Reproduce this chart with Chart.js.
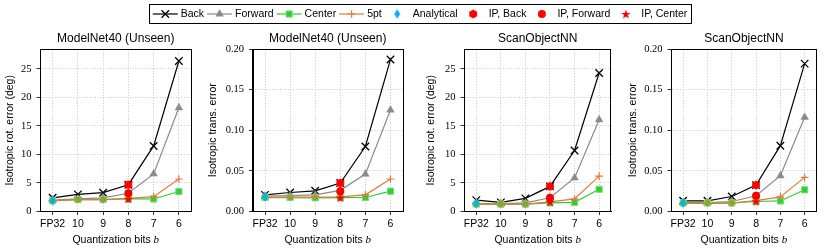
<!DOCTYPE html>
<html>
<head>
<meta charset="utf-8">
<script src="https://cdn.jsdelivr.net/npm/chart.js"></script>
<style>
  body { margin: 0; background: #fff; }
  #wrap { position: relative; width: 830px; height: 250px; }
  canvas { position: absolute; }
</style>
</head>
<body>
<div id="wrap">
  <canvas id="legend" style="left:0px;top:0px" width="830" height="30"></canvas>
  <canvas id="c1" style="left:0px;top:30px" width="200" height="220"></canvas>
  <canvas id="c2" style="left:200px;top:30px" width="210" height="220"></canvas>
  <canvas id="c3" style="left:418px;top:30px" width="200" height="220"></canvas>
  <canvas id="c4" style="left:620px;top:30px" width="210" height="220"></canvas>
</div>
<script>
// x categories
const bits = ['FP32', '10', '9', '8', '7', '6'];

// ModelNet40 (Unseen) - rotation error (deg)
const mnRotBack    = [2.4, 3.0, 3.3, 4.7, 11.5, 26.4];
const mnRotForward = [2.0, 2.2, 2.4, 3.2, 6.6, 18.2];
const mnRotCenter  = [1.9, 2.1, 2.1, 2.2, 2.2, 3.5];
const mnRot5pt     = [1.9, 2.1, 2.1, 2.3, 2.6, 5.7];
const mnRotAnalytical = [1.9];          // at FP32
const mnRotIP = [4.7, 3.2, 2.2];        // back, forward, center at 8 bits

// ModelNet40 (Unseen) - translation error
const mnTransBack    = [0.0205, 0.0234, 0.0255, 0.035, 0.080, 0.187];
const mnTransForward = [0.019, 0.0195, 0.0205, 0.026, 0.046, 0.125];
const mnTransCenter  = [0.0172, 0.0172, 0.0168, 0.017, 0.0172, 0.025];
const mnTrans5pt     = [0.0175, 0.0178, 0.0178, 0.018, 0.0205, 0.040];
const mnTransAnalytical = [0.018];
const mnTransIP = [0.035, 0.025, 0.017];

// ScanObjectNN - rotation error (deg)
const soRotBack    = [2.0, 1.6, 2.3, 4.4, 10.7, 24.3];
const soRotForward = [1.4, 1.4, 1.5, 2.4, 5.9, 16.1];
const soRotCenter  = [1.3, 1.3, 1.3, 1.5, 1.6, 3.9];
const soRot5pt     = [1.3, 1.3, 1.3, 1.7, 2.2, 6.2];
const soRotAnalytical = [1.4];
const soRotIP = [4.4, 2.4, 1.7];

// ScanObjectNN - translation error
const soTransBack    = [0.0132, 0.0132, 0.0185, 0.0325, 0.081, 0.182];
const soTransForward = [0.011, 0.011, 0.0123, 0.0193, 0.044, 0.116];
const soTransCenter  = [0.0105, 0.0105, 0.0105, 0.0123, 0.013, 0.0267];
const soTrans5pt     = [0.010, 0.010, 0.0102, 0.0135, 0.018, 0.042];
const soTransAnalytical = [0.0105];
const soTransIP = [0.0325, 0.0195, 0.0125];

// y ticks
const rotTicks = [0, 5, 10, 15, 20, 25];
const transTicks = [0, 0.05, 0.10, 0.15, 0.20];

const SANS = '"Liberation Sans", Arial, sans-serif';
const SERIF = '"Liberation Serif", "DejaVu Serif", serif';

// custom markers (matplotlib-like hexagon, star, thin diamond)
function makeMarker(w, h, draw) {
  const c = document.createElement('canvas');
  c.width = w; c.height = h;
  draw(c.getContext('2d'), w / 2, h / 2);
  return c;
}
const hexMarker = makeMarker(10, 10, (g, cx, cy) => {
  g.fillStyle = '#ff0000';
  g.beginPath();
  for (let k = 0; k < 6; k++) {
    const a = -Math.PI / 2 + k * Math.PI / 3;
    const px = cx + 4.5 * Math.cos(a), py = cy + 4.5 * Math.sin(a);
    if (k) g.lineTo(px, py); else g.moveTo(px, py);
  }
  g.closePath();
  g.fill();
});
const starMarker = makeMarker(12, 12, (g, cx, cy) => {
  g.fillStyle = '#ff0000';
  g.beginPath();
  for (let k = 0; k < 10; k++) {
    const r = k % 2 ? 2.0 : 5.0;
    const a = -Math.PI / 2 + k * Math.PI / 5;
    const px = cx + r * Math.cos(a), py = cy + 0.5 + r * Math.sin(a);
    if (k) g.lineTo(px, py); else g.moveTo(px, py);
  }
  g.closePath();
  g.fill();
});
const diamondMarker = makeMarker(8, 12, (g, cx, cy) => {
  g.fillStyle = '#00b4f0';
  g.beginPath();
  g.moveTo(cx, cy - 4.8);
  g.lineTo(cx + 3, cy);
  g.lineTo(cx, cy + 4.8);
  g.lineTo(cx - 3, cy);
  g.closePath();
  g.fill();
});

const seriesStyles = [
  {label: 'Back', borderColor: '#000000', pointBackgroundColor: '#000000', pointBorderColor: '#000000',
   pointStyle: 'crossRot', pointRadius: 5.3, pointBorderWidth: 1.3, showLine: true},
  {label: 'Forward', borderColor: '#8a8a8a', pointBackgroundColor: '#8a8a8a', pointBorderColor: '#8a8a8a',
   pointStyle: 'triangle', pointRadius: 4.4, pointBorderWidth: 0.5, showLine: true},
  {label: 'Center', borderColor: '#33cc33', pointBackgroundColor: '#33cc33', pointBorderColor: '#7fe07f',
   pointStyle: 'rect', pointRadius: 4.4, pointBorderWidth: 1, showLine: true},
  {label: '5pt', borderColor: '#e07b39', pointBackgroundColor: '#e07b39', pointBorderColor: '#e07b39',
   pointStyle: 'cross', pointRadius: 3.8, pointBorderWidth: 1.2, showLine: true},
  {label: 'Analytical', borderColor: '#00b4f0', pointBackgroundColor: '#00b4f0', pointBorderColor: '#00b4f0',
   pointStyle: diamondMarker, pointRadius: 4, pointBorderWidth: 0, showLine: false},
  {label: 'IP, Back', borderColor: '#ff0000', pointBackgroundColor: '#ff0000', pointBorderColor: '#ff0000',
   pointStyle: hexMarker, pointRadius: 4, pointBorderWidth: 0, showLine: false},
  {label: 'IP, Forward', borderColor: '#ff0000', pointBackgroundColor: '#ff0000', pointBorderColor: '#ff0000',
   pointStyle: 'circle', pointRadius: 4, pointBorderWidth: 0, showLine: false},
  {label: 'IP, Center', borderColor: '#ff0000', pointBackgroundColor: '#ff0000', pointBorderColor: '#ff0000',
   pointStyle: starMarker, pointRadius: 4, pointBorderWidth: 0, showLine: false}
];

function buildDatasets(back, forward, center, fivept, analytical, ip) {
  const at = (label, v) => bits.map(b => (b === label ? v : null));
  const values = [back, forward, center, fivept,
                  at('FP32', analytical[0]),
                  at('8', ip[0]), at('8', ip[1]), at('8', ip[2])];
  const n = values.length;
  return values.map((d, i) => Object.assign({}, seriesStyles[i], {
    data: d,
    borderWidth: 1.2,
    tension: 0,
    order: n - i
  }));
}

// black box round the plot area
const frame = {
  id: 'frame',
  afterDraw(chart) {
    const a = chart.chartArea, ctx = chart.ctx;
    ctx.save();
    ctx.strokeStyle = '#000';
    ctx.lineWidth = 1;
    ctx.strokeRect(Math.round(a.left) + 0.5, Math.round(a.top) + 0.5,
                   Math.round(a.right - a.left) - 1, Math.round(a.bottom - a.top) - 1);
    ctx.restore();
  }
};

// x label with italic b
const xLabel = {
  id: 'xLabel',
  afterDraw(chart) {
    const a = chart.chartArea, ctx = chart.ctx;
    const t1 = 'Quantization bits ', t2 = 'b';
    ctx.save();
    ctx.fillStyle = '#000';
    ctx.textBaseline = 'middle';
    ctx.font = '10.5px ' + SANS;
    const w1 = ctx.measureText(t1).width;
    ctx.font = 'italic 11px ' + SERIF;
    const w2 = ctx.measureText(t2).width;
    const x0 = (a.left + a.right) / 2 - (w1 + w2) / 2;
    ctx.font = '10.5px ' + SANS;
    ctx.fillText(t1, x0, 210);
    ctx.font = 'italic 11px ' + SERIF;
    ctx.fillText(t2, x0 + w1, 210);
    ctx.restore();
  }
};

function makePanel(id, title, yTitle, yMax, yTicks, decimals, yWidth, yTitlePad, padRight, datasets) {
  const gridOpts = {color: '#c8c8c8', lineWidth: 1, tickLength: 3.5, tickColor: '#000', tickWidth: 0.8};
  const borderOpts = {display: true, color: '#000', width: 1, dash: [1, 1.7]};
  return new Chart(document.getElementById(id), {
    type: 'line',
    data: {labels: bits, datasets: datasets},
    options: {
      responsive: false,
      animation: false,
      events: [],
      layout: {padding: {left: 0, right: padRight, top: 0, bottom: 0}},
      plugins: {
        legend: {display: false},
        tooltip: {enabled: false},
        title: {display: true, text: title, fullSize: false, color: '#000',
                font: {family: SANS, size: 12, weight: 'normal'}, padding: {top: 1, bottom: 3.6}}
      },
      scales: {
        x: {
          type: 'category',
          offset: true,
          afterFit: s => { s.height = 38.5; },
          ticks: {font: {family: SANS, size: 10.5}, color: '#000', padding: 3, maxRotation: 0, autoSkip: false},
          grid: gridOpts,
          border: borderOpts
        },
        y: {
          min: 0,
          max: yMax,
          afterBuildTicks: s => { s.ticks = yTicks.map(v => ({value: v})); },
          afterFit: s => { s.width = yWidth; },
          ticks: {font: {family: SERIF, size: 10.5}, color: '#000', padding: 5,
                  callback: v => v.toFixed(decimals)},
          grid: gridOpts,
          border: borderOpts,
          title: {display: true, text: yTitle, color: '#000',
                  font: {family: SANS, size: 10.5}, padding: {top: yTitlePad, bottom: 0}}
        }
      }
    },
    plugins: [frame, xLabel]
  });
}

makePanel('c1', 'ModelNet40 (Unseen)', 'Isotropic rot. error (deg)', 28.5, rotTicks, 0, 40, 3.7, 8.5,
  buildDatasets(mnRotBack, mnRotForward, mnRotCenter, mnRot5pt, mnRotAnalytical, mnRotIP));
makePanel('c2', 'ModelNet40 (Unseen)', 'Isotropic trans. error', 0.2, transTicks, 2, 52.5, 6.5, 7,
  buildDatasets(mnTransBack, mnTransForward, mnTransCenter, mnTrans5pt, mnTransAnalytical, mnTransIP));
makePanel('c3', 'ScanObjectNN', 'Isotropic rot. error (deg)', 28.5, rotTicks, 0, 46, 7, 3.7,
  buildDatasets(soRotBack, soRotForward, soRotCenter, soRot5pt, soRotAnalytical, soRotIP));
makePanel('c4', 'ScanObjectNN', 'Isotropic trans. error', 0.2, transTicks, 2, 51, 6.5, 13.2,
  buildDatasets(soTransBack, soTransForward, soTransCenter, soTrans5pt, soTransAnalytical, soTransIP));

// shared legend on top
const legendBox = {
  id: 'legendBox',
  afterDraw(chart) {
    const ctx = chart.ctx;
    const sets = chart.data.datasets;
    const drawPoint = Chart.helpers && Chart.helpers.drawPoint;
    const handle = 25, gapText = 3, gapItem = 3, padX = 4, yMid = 14;
    ctx.save();
    ctx.font = '10.5px ' + SANS;
    const widths = sets.map(d => ctx.measureText(d.label).width);
    let total = 0;
    widths.forEach((w, i) => { total += handle + gapText + w + (i < sets.length - 1 ? gapItem : 0); });
    let x = 420 - total / 2;
    const bx = Math.round(x - padX) + 0.5;
    ctx.fillStyle = '#fff';
    ctx.fillRect(bx, 4.5, Math.round(total + 2 * padX), 19);
    ctx.strokeStyle = '#000';
    ctx.lineWidth = 1;
    ctx.strokeRect(bx, 4.5, Math.round(total + 2 * padX), 19);
    sets.forEach((d, i) => {
      if (d.showLine) {
        ctx.strokeStyle = d.borderColor;
        ctx.lineWidth = 1.2;
        ctx.beginPath();
        ctx.moveTo(x, yMid);
        ctx.lineTo(x + handle, yMid);
        ctx.stroke();
      }
      if (drawPoint) {
        ctx.fillStyle = d.pointBackgroundColor;
        ctx.strokeStyle = d.pointBorderColor;
        ctx.lineWidth = d.pointBorderWidth;
        drawPoint(ctx, {pointStyle: d.pointStyle, radius: d.pointRadius,
                        borderWidth: d.pointBorderWidth, rotation: 0}, x + handle / 2, yMid);
      }
      ctx.fillStyle = '#000';
      ctx.textBaseline = 'middle';
      ctx.textAlign = 'left';
      ctx.fillText(d.label, x + handle + gapText, yMid + 0.5);
      x += handle + gapText + widths[i] + gapItem;
    });
    ctx.restore();
  }
};

new Chart(document.getElementById('legend'), {
  type: 'line',
  data: {labels: [], datasets: seriesStyles.map(s => Object.assign({}, s, {data: []}))},
  options: {
    responsive: false,
    animation: false,
    events: [],
    plugins: {legend: {display: false}, tooltip: {enabled: false}},
    scales: {x: {display: false}, y: {display: false}}
  },
  plugins: [legendBox]
});
</script>
</body>
</html>
